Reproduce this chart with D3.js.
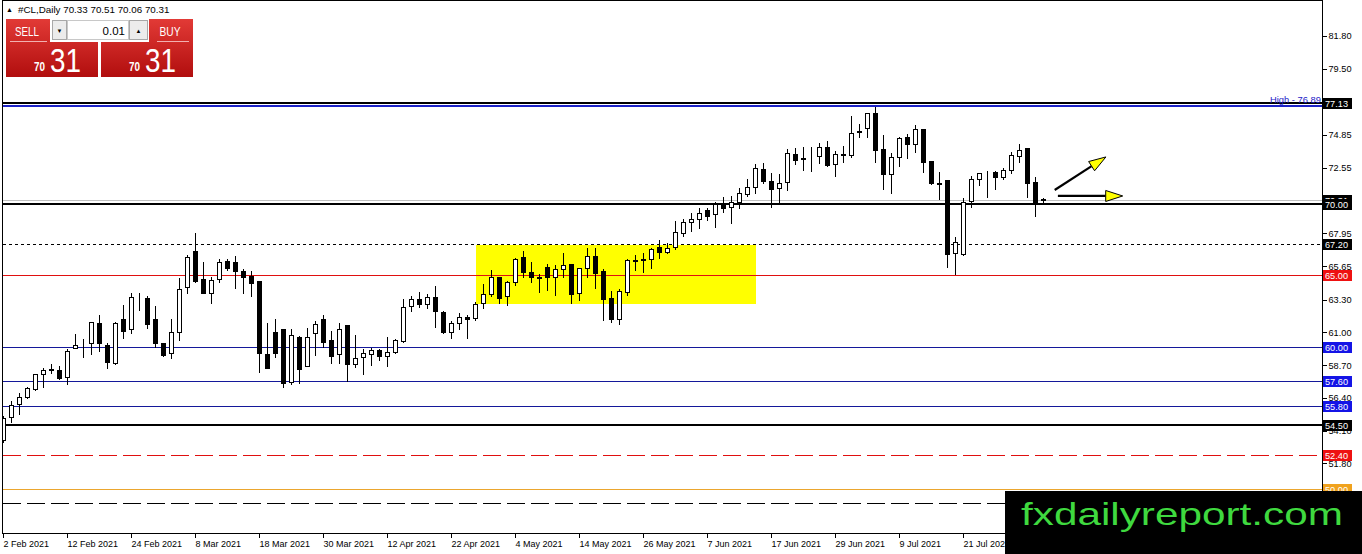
<!DOCTYPE html>
<html>
<head>
<meta charset="utf-8">
<script src="https://cdn.jsdelivr.net/npm/d3@7/dist/d3.min.js"></script>
<style>
  body { margin: 0; background: #fff; overflow: hidden; }
  svg { display: block; font-family: "Liberation Sans", Arial, sans-serif; }
</style>
</head>
<body>
<div id="chart"></div>
<script>
/* ---------------- data ---------------- */

const symbolTitle = "#CL,Daily";
const lastQuote = [70.33, 70.51, 70.06, 70.31];

const dates = [
  "2021-02-02","2021-02-03","2021-02-04","2021-02-05","2021-02-08","2021-02-09","2021-02-10","2021-02-11","2021-02-12","2021-02-15",
  "2021-02-16","2021-02-17","2021-02-18","2021-02-19","2021-02-22","2021-02-23","2021-02-24","2021-02-25","2021-02-26",
  "2021-03-01","2021-03-02","2021-03-03","2021-03-04","2021-03-05","2021-03-08","2021-03-09","2021-03-10","2021-03-11","2021-03-12",
  "2021-03-15","2021-03-16","2021-03-17","2021-03-18","2021-03-19","2021-03-22","2021-03-23","2021-03-24","2021-03-25","2021-03-26",
  "2021-03-29","2021-03-30","2021-03-31",
  "2021-04-01","2021-04-05","2021-04-06","2021-04-07","2021-04-08","2021-04-09","2021-04-12","2021-04-13","2021-04-14","2021-04-15",
  "2021-04-16","2021-04-19","2021-04-20","2021-04-21","2021-04-22","2021-04-23","2021-04-26","2021-04-27","2021-04-28","2021-04-29","2021-04-30",
  "2021-05-03","2021-05-04","2021-05-05","2021-05-06","2021-05-07","2021-05-10","2021-05-11","2021-05-12","2021-05-13","2021-05-14",
  "2021-05-17","2021-05-18","2021-05-19","2021-05-20","2021-05-21","2021-05-24","2021-05-25","2021-05-26","2021-05-27","2021-05-28","2021-05-31",
  "2021-06-01","2021-06-02","2021-06-03","2021-06-04","2021-06-07","2021-06-08","2021-06-09","2021-06-10","2021-06-11","2021-06-14",
  "2021-06-15","2021-06-16","2021-06-17","2021-06-18","2021-06-21","2021-06-22","2021-06-23","2021-06-24","2021-06-25","2021-06-28",
  "2021-06-29","2021-06-30",
  "2021-07-01","2021-07-02","2021-07-05","2021-07-06","2021-07-07","2021-07-08","2021-07-09","2021-07-12","2021-07-13","2021-07-14",
  "2021-07-15","2021-07-16","2021-07-19","2021-07-20","2021-07-21","2021-07-22","2021-07-23","2021-07-26","2021-07-27","2021-07-28",
  "2021-07-29","2021-07-30",
  "2021-08-02","2021-08-03","2021-08-04"
];

const opens = [
  53.44,55.03,55.95,56.44,57.02,58.05,58.40,58.35,57.88,59.92,60.18,60.23,61.65,60.11,58.82,61.91,61.25,63.44,63.41,
  61.93,60.25,59.53,61.04,64.16,66.71,64.74,63.78,64.72,66.00,65.91,65.30,64.97,64.60,59.48,61.00,61.23,57.53,60.65,58.63,60.93,61.91,60.46,
  59.46,61.51,58.75,59.25,59.50,59.74,59.34,59.60,60.39,62.85,63.34,62.97,63.50,62.45,61.04,61.63,62.07,61.98,63.04,63.67,64.86,
  63.57,64.51,66.31,65.25,64.88,65.60,64.86,65.42,65.79,63.78,65.49,66.36,65.30,63.39,61.91,63.85,66.05,66.08,66.12,66.97,66.62,
  67.01,67.94,68.73,68.93,69.59,69.28,69.94,69.78,70.13,70.71,71.18,72.44,71.64,71.11,71.57,73.52,73.27,73.25,73.38,73.99,72.79,73.48,
  73.45,75.13,75.36,76.37,73.87,72.11,73.28,74.73,74.20,75.25,73.02,71.46,71.69,66.59,66.48,70.24,71.74,72.29,72.27,71.92,72.39,73.40,
  73.92,71.53,70.33
];

const highs = [
  55.19,56.25,56.83,57.23,58.16,58.58,58.82,58.70,59.88,60.97,60.62,61.74,62.28,60.30,61.79,62.99,63.85,63.85,63.62,
  62.92,60.34,61.98,64.90,66.48,68.02,65.99,64.97,66.24,66.19,66.43,65.49,65.37,64.67,61.70,61.98,61.28,61.28,60.81,61.39,61.86,62.28,61.16,
  61.70,61.51,60.86,59.88,59.97,59.92,60.74,60.62,63.39,63.62,63.90,63.74,64.32,62.57,61.86,62.40,62.26,63.20,64.44,65.44,64.95,
  64.67,66.26,66.78,66.00,65.18,65.84,65.79,66.62,65.79,65.60,66.97,67.01,65.49,63.97,64.09,66.19,66.48,66.66,66.97,67.55,67.36,
  68.88,69.00,69.47,69.82,69.82,70.24,70.59,70.64,71.22,71.81,72.86,72.98,72.27,72.16,73.92,73.98,74.10,74.10,74.38,74.50,73.80,74.15,
  76.25,75.67,76.49,76.89,74.90,73.68,74.80,74.97,75.60,75.36,73.05,72.32,71.69,67.76,70.48,72.04,72.27,72.39,72.39,72.63,73.75,74.31,
  73.92,71.97,70.51
];

const lows = [
  53.30,54.72,55.24,56.39,56.95,57.18,58.12,57.72,57.35,59.88,59.29,59.46,59.71,58.51,58.75,60.62,60.93,62.57,61.32,
  59.99,59.36,59.17,60.46,63.78,64.55,63.74,63.08,64.51,65.37,64.13,63.74,63.57,58.23,58.47,59.29,57.18,57.35,57.42,58.60,59.41,59.99,58.82,
  58.82,57.58,58.58,58.05,58.70,59.06,58.65,59.53,60.30,62.52,62.80,62.69,61.39,60.93,60.58,61.23,60.62,61.86,62.69,63.57,63.04,
  62.92,64.32,64.90,64.51,63.85,63.97,63.62,64.90,63.08,63.27,64.86,64.09,61.86,61.74,61.56,63.62,65.37,65.21,65.49,66.19,66.55,
  66.85,67.76,68.13,68.30,68.88,68.41,69.47,68.69,69.71,70.60,70.80,71.46,69.78,70.06,70.99,72.81,72.39,72.32,72.86,72.67,71.99,72.98,
  73.32,74.73,74.73,72.98,71.06,70.76,72.69,73.21,73.64,72.27,71.40,70.36,65.60,65.09,66.43,69.82,71.34,70.52,71.04,71.74,72.20,72.98,
  70.52,69.18,70.06
];

const closes = [
  54.96,55.87,56.46,57.07,58.05,58.33,58.33,57.81,59.69,60.09,60.16,61.70,60.23,58.89,61.65,61.11,63.46,63.42,61.56,
  60.23,59.41,61.00,64.02,66.29,64.60,63.78,64.67,65.91,65.53,65.32,64.90,64.44,59.53,58.51,59.57,57.42,60.81,58.40,60.65,61.56,60.34,59.36,
  61.21,58.75,59.17,59.53,59.74,59.34,59.60,60.46,62.76,63.34,62.99,63.50,62.52,61.04,61.63,62.05,61.91,62.99,63.67,64.86,63.43,
  64.51,66.12,65.25,64.86,64.80,64.86,65.42,65.70,63.69,65.49,66.38,65.18,63.32,61.93,63.90,66.08,66.00,66.18,66.85,66.62,66.94,
  68.06,68.76,68.95,69.40,69.19,69.99,69.75,70.13,70.76,71.18,72.51,71.64,71.04,71.46,73.57,73.09,73.20,73.26,74.03,72.74,73.50,73.52,
  74.97,75.04,76.37,73.80,72.11,73.28,74.66,74.20,75.25,72.93,71.46,71.44,66.50,67.32,70.17,71.74,72.16,72.34,71.88,72.39,73.45,73.80,
  71.46,70.17,70.31
];

// price scale labels on the right
const priceTicks = [81.80, 79.50, 77.20, 74.85, 72.55, 70.25, 67.95, 65.65, 63.30, 61.00, 58.70, 56.40, 54.10, 51.80, 49.50];

// horizontal levels drawn on the chart, and what kind of line each one is
const levelPrices = [77.13, 76.89, 70.31, 70.00, 67.20, 65.00, 60.00, 57.60, 55.80, 54.50, 52.40, 50.00, 49.00];
const levelKinds  = ["solid", "high", "bid", "solid", "dotted", "red", "blue", "blue", "blue", "solid", "redDash", "orange", "dash"];

// yellow range box (dates + prices)
const zoneDates = ["2021-04-27", "2021-06-15"];
const zonePrices = [67.13, 63.00];

// arrows to the right of the last bar (bar offset, price)
const arrowBars   = [[131.4, 137.8], [131.8, 139.9]];
const arrowPrices = [[70.99, 73.31], [70.57, 70.57]];

/* ---------------- styles ---------------- */

const levelStyle = {
  solid:   { stroke: "#000",    width: 2, dash: null,   box: "#000"    },
  high:    { stroke: "#1c22c8", width: 2, dash: null,   box: null      },
  bid:     { stroke: "#c0c0c0", width: 1, dash: null,   box: "#000"    },
  dotted:  { stroke: "#000",    width: 1, dash: "3,3",  box: "#000"    },
  red:     { stroke: "#e01010", width: 1, dash: null,   box: "#ee1111" },
  blue:    { stroke: "#14189a", width: 1, dash: null,   box: "#1414e6" },
  redDash: { stroke: "#e01010", width: 1, dash: "18,6", box: "#ee1111" },
  orange:  { stroke: "#eba62e", width: 1, dash: null,   box: "#f0a21e" },
  dash:    { stroke: "#000",    width: 1, dash: "18,6", box: "#000"    }
};

/* ---------------- setup ---------------- */

const W = 1362, H = 554;
const plotLeft = 3, plotRight = 1322, plotTop = 1, plotBottom = 533;

const svg = d3.select("#chart").append("svg")
  .attr("width", W).attr("height", H)
  .attr("shape-rendering", "crispEdges");

const bars = dates.map((d, i) => ({
  i, date: d, o: opens[i], h: highs[i], l: lows[i], c: closes[i]
}));

// MT4 style: fixed 8 px per bar
const x = d3.scaleLinear().domain([0, 1]).range([3.5, 11.5]);
const y = d3.scaleLinear().domain([46.911, 84.257]).range([plotBottom, plotTop]);
const idx = d3.map(dates, (d, i) => i);
const indexOf = s => dates.indexOf(s);
const py = p => Math.round(y(p)) + 0.5;

const defs = svg.append("defs");
defs.append("clipPath").attr("id", "plot-clip")
  .append("rect")
  .attr("x", plotLeft).attr("y", plotTop)
  .attr("width", plotRight - plotLeft).attr("height", plotBottom - plotTop);

const plot = svg.append("g").attr("clip-path", "url(#plot-clip)");

/* ---------------- yellow zone ---------------- */

plot.append("rect")
  .attr("x", x(indexOf(zoneDates[0])))
  .attr("y", y(zonePrices[0]))
  .attr("width", x(indexOf(zoneDates[1])) - x(indexOf(zoneDates[0])))
  .attr("height", y(zonePrices[1]) - y(zonePrices[0]))
  .attr("fill", "#ffff00");

/* ---------------- horizontal levels ---------------- */

const levels = levelPrices.map((p, k) => ({ p, s: levelStyle[levelKinds[k]] }));

plot.selectAll("line.level")
  .data(levels)
  .join("line")
  .attr("class", "level")
  .attr("x1", plotLeft).attr("x2", plotRight)
  .attr("y1", d => d.s.width % 2 ? py(d.p) : Math.round(y(d.p)))
  .attr("y2", d => d.s.width % 2 ? py(d.p) : Math.round(y(d.p)))
  .attr("stroke", d => d.s.stroke)
  .attr("stroke-width", d => d.s.width)
  .attr("stroke-dasharray", d => d.s.dash);

/* ---------------- candles ---------------- */

plot.selectAll("line.wick")
  .data(bars)
  .join("line")
  .attr("class", "wick")
  .attr("x1", d => x(d.i)).attr("x2", d => x(d.i))
  .attr("y1", d => py(d.h)).attr("y2", d => py(d.l))
  .attr("stroke", "#000");

plot.selectAll("rect.body")
  .data(bars)
  .join("rect")
  .attr("class", "body")
  .attr("x", d => x(d.i) - 2)
  .attr("y", d => Math.round(y(Math.max(d.o, d.c))) + 0.5)
  .attr("width", 4)
  .attr("height", d => Math.max(0, Math.round(y(Math.min(d.o, d.c))) - Math.round(y(Math.max(d.o, d.c)))))
  .attr("fill", d => d.c > d.o ? "#fff" : "#000")
  .attr("stroke", "#000");

/* ---------------- arrows ---------------- */

const arrows = arrowBars.map((b, k) => ({
  x0: x(b[0]), y0: y(arrowPrices[k][0]),
  x1: x(b[1]), y1: y(arrowPrices[k][1])
}));

arrows.forEach(a => {
  const dx = a.x1 - a.x0, dy = a.y1 - a.y0;
  const len = Math.hypot(dx, dy);
  const ux = dx / len, uy = dy / len;
  const headL = 17, headW = 5.5;
  const bx = a.x1 - ux * headL, by = a.y1 - uy * headL;
  svg.append("line")
    .attr("shape-rendering", "auto")
    .attr("x1", a.x0).attr("y1", a.y0)
    .attr("x2", bx).attr("y2", by)
    .attr("stroke", "#000").attr("stroke-width", 2.2);
  svg.append("polygon")
    .attr("shape-rendering", "auto")
    .attr("points", [
      [a.x1, a.y1],
      [bx - uy * headW, by + ux * headW],
      [bx + uy * headW, by - ux * headW]
    ].map(p => p.join(",")).join(" "))
    .attr("fill", "#ffff00")
    .attr("stroke", "#000").attr("stroke-width", 1);
});

/* ---------------- frame ---------------- */

svg.append("rect")
  .attr("x", 2.5).attr("y", 0.5)
  .attr("width", plotRight - 2.5).attr("height", plotBottom)
  .attr("fill", "none").attr("stroke", "#000");

/* ---------------- axes ---------------- */

const yAxis = d3.axisRight(y)
  .tickValues(priceTicks)
  .tickSize(4)
  .tickSizeOuter(0)
  .tickPadding(2)
  .tickFormat(d3.format(".2f"));

const yAxisG = svg.append("g")
  .attr("transform", `translate(${plotRight + 0.5},0)`)
  .call(yAxis);
yAxisG.select(".domain").remove();
yAxisG.selectAll("text")
  .attr("font-family", "'Liberation Sans', Arial, sans-serif")
  .attr("font-size", 9.2)
  .attr("fill", "#000");
yAxisG.selectAll(".tick line").attr("stroke", "#000");

const parseDate = d3.timeParse("%Y-%m-%d");
const fmtDate = d3.timeFormat("%-d %b %Y");

const xAxis = d3.axisBottom(x)
  .tickValues(idx.filter(i => i % 8 === 0))
  .tickSize(4)
  .tickSizeOuter(0)
  .tickFormat(i => fmtDate(parseDate(dates[i])));

const xAxisG = svg.append("g")
  .attr("transform", `translate(-0.5,${plotBottom + 0.5})`)
  .call(xAxis);
xAxisG.select(".domain").remove();
xAxisG.selectAll(".tick line").attr("stroke", "#000");
xAxisG.selectAll("text")
  .attr("font-family", "'Liberation Sans', Arial, sans-serif")
  .attr("font-size", 9)
  .attr("fill", "#000")
  .attr("text-anchor", "start")
  .attr("x", 0)
  .attr("y", 7)
  .attr("dy", "0.71em");

/* ---------------- level price boxes ---------------- */

const boxed = levels.filter(d => d.s.box);
const boxG = svg.append("g");
boxed.forEach(d => {
  const cy = Math.round(y(d.p));
  boxG.append("rect")
    .attr("x", plotRight + 1).attr("y", cy - 5)
    .attr("width", 29).attr("height", 11)
    .attr("fill", d.s.box);
  boxG.append("text")
    .attr("x", plotRight + 3).attr("y", cy + 4)
    .attr("font-size", 9.2)
    .attr("fill", "#fff")
    .text(d3.format(".2f")(d.p));
});

// "High" label above the high line
svg.append("text")
  .attr("x", plotRight - 1).attr("y", py(levelPrices[1]) - 4)
  .attr("text-anchor", "end")
  .attr("font-size", 9.4)
  .attr("fill", "#1c22c8")
  .text("High - " + d3.format(".2f")(levelPrices[1]));

/* ---------------- header ---------------- */

svg.append("text")
  .attr("x", 6).attr("y", 12)
  .attr("font-size", 7)
  .text("\u25B2");
svg.append("text")
  .attr("x", 18).attr("y", 13)
  .attr("font-size", 9.8)
  .attr("fill", "#000")
  .text(symbolTitle + " " + lastQuote.map(d3.format(".2f")).join(" "));

/* ---------------- trade panel ---------------- */

const grad = defs.append("linearGradient").attr("id", "red-grad")
  .attr("x1", 0).attr("y1", 0).attr("x2", 0).attr("y2", 1);
grad.append("stop").attr("offset", "0%").attr("stop-color", "#e23a36");
grad.append("stop").attr("offset", "100%").attr("stop-color", "#b10e0e");

const panel = svg.append("g").attr("shape-rendering", "auto");
const bid = lastQuote[3].toFixed(2).split(".");

[[6, "SELL", 27], [101, "BUY", 170]].forEach(([px, label, lx]) => {
  panel.append("rect")
    .attr("x", px).attr("y", 19).attr("width", 92).attr("height", 58)
    .attr("fill", "url(#red-grad)");
  panel.append("text")
    .attr("x", lx).attr("y", 36)
    .attr("text-anchor", "middle")
    .attr("font-size", 12.5)
    .attr("textLength", label === "SELL" ? 24 : 21)
    .attr("lengthAdjust", "spacingAndGlyphs")
    .attr("fill", "#fff")
    .text(label);
  panel.append("line")
    .attr("x1", label === "SELL" ? 10 : 157).attr("x2", label === "SELL" ? 47 : 189)
    .attr("y1", 41.5).attr("y2", 41.5)
    .attr("stroke", "#f2b0b0").attr("stroke-width", 1);
  const bx = px + 28;
  panel.append("text")
    .attr("x", bx).attr("y", 71)
    .attr("font-size", 12).attr("font-weight", "bold")
    .attr("textLength", 11).attr("lengthAdjust", "spacingAndGlyphs")
    .attr("fill", "#fff")
    .text(bid[0]);
  panel.append("text")
    .attr("x", bx + 16).attr("y", 72)
    .attr("font-size", 34)
    .attr("textLength", 31).attr("lengthAdjust", "spacingAndGlyphs")
    .attr("fill", "#fff")
    .text(bid[1]);
});

// lot size controls
panel.append("rect").attr("x", 50).attr("y", 18).attr("width", 99).attr("height", 24).attr("fill", "#fff");
panel.append("rect").attr("x", 52.5).attr("y", 20.5).attr("width", 14).attr("height", 19)
  .attr("fill", "#ececec").attr("stroke", "#a8a8a8");
panel.append("rect").attr("x", 67.5).attr("y", 20.5).attr("width", 61).attr("height", 19)
  .attr("fill", "#fff").attr("stroke", "#c8c8c8");
panel.append("rect").attr("x", 129.5).attr("y", 20.5).attr("width", 18).attr("height", 19)
  .attr("fill", "#ececec").attr("stroke", "#a8a8a8");
panel.append("text").attr("x", 59.5).attr("y", 33).attr("text-anchor", "middle")
  .attr("font-size", 6).text("\u25BC");
panel.append("text").attr("x", 138.5).attr("y", 33).attr("text-anchor", "middle")
  .attr("font-size", 6).text("\u25B2");
panel.append("text").attr("x", 125).attr("y", 35).attr("text-anchor", "end")
  .attr("font-size", 11.5).attr("fill", "#000").text("0.01");

/* ---------------- watermark ---------------- */

svg.append("rect")
  .attr("x", 1005).attr("y", 491).attr("width", W - 1005).attr("height", H - 491)
  .attr("fill", "#000");
svg.append("text")
  .attr("shape-rendering", "auto")
  .attr("x", 1021).attr("y", 525)
  .attr("font-size", 32)
  .attr("textLength", 322).attr("lengthAdjust", "spacingAndGlyphs")
  .attr("fill", "#3fd93f")
  .text("fxdailyreport.com");
</script>
</body>
</html>
